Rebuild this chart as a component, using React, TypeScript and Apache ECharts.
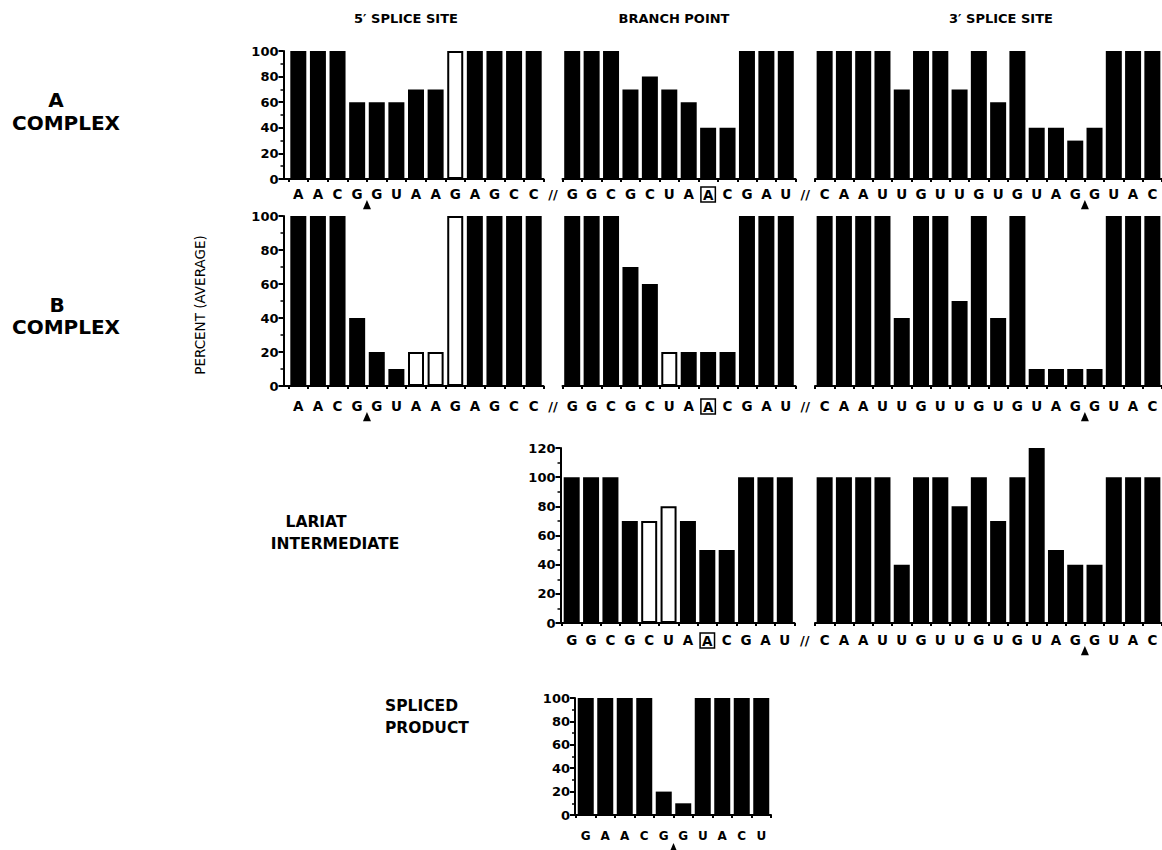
import React, { useEffect, useRef } from "react";
import * as echarts from "echarts";

// ---- data ----
const fivePrimeSeq = ["A", "A", "C", "G", "G", "U", "A", "A", "G", "A", "G", "C", "C"];
const branchSeq = ["G", "G", "C", "G", "C", "U", "A", "A", "C", "G", "A", "U"];
const threePrimeSeq = ["C", "A", "A", "U", "U", "G", "U", "U", "G", "U", "G", "U", "A", "G", "G", "U", "A", "C"];
const splicedSeq = ["G", "A", "A", "C", "G", "G", "U", "A", "C", "U"];

const aFive = [100, 100, 100, 60, 60, 60, 70, 70, 100, 100, 100, 100, 100];
const aFiveOpen = [8];
const aBranch = [100, 100, 100, 70, 80, 70, 60, 40, 40, 100, 100, 100];
const aBranchOpen: number[] = [];
const aThree = [100, 100, 100, 100, 70, 100, 100, 70, 100, 60, 100, 40, 40, 30, 40, 100, 100, 100];
const aThreeOpen: number[] = [];

const bFive = [100, 100, 100, 40, 20, 10, 20, 20, 100, 100, 100, 100, 100];
const bFiveOpen = [6, 7, 8];
const bBranch = [100, 100, 100, 70, 60, 20, 20, 20, 20, 100, 100, 100];
const bBranchOpen = [5];
const bThree = [100, 100, 100, 100, 40, 100, 100, 50, 100, 40, 100, 10, 10, 10, 10, 100, 100, 100];
const bThreeOpen: number[] = [];

const lariatBranch = [100, 100, 100, 70, 70, 80, 70, 50, 50, 100, 100, 100];
const lariatBranchOpen = [4, 5];
const lariatThree = [100, 100, 100, 100, 40, 100, 100, 80, 100, 70, 100, 120, 50, 40, 40, 100, 100, 100];
const lariatThreeOpen: number[] = [];

const splicedValues = [100, 100, 100, 100, 20, 10, 100, 100, 100, 100];
const splicedOpen: number[] = [];

const branchBoxIndex = 7;

const FONT = "DejaVu Sans";

type Panel = {
  seq: string[];
  values: number[];
  open: number[];
  max: number;
  left: number;
  width: number;
  top: number;
  height: number;
  showY: boolean;
  yOffset: number;
  margin: number;
  labelSize: number;
  box?: number;
};

const ROW_A = { top: 51, height: 128, margin: 8, labelSize: 13.5 };
const ROW_B = { top: 216, height: 170, margin: 13, labelSize: 13.5 };
const ROW_L = { top: 448, height: 175, margin: 10, labelSize: 13.5 };

const panels: Panel[] = [
  { seq: fivePrimeSeq, values: aFive, open: aFiveOpen, max: 100, left: 288.5, width: 255, ...ROW_A, showY: true, yOffset: 5 },
  { seq: branchSeq, values: aBranch, open: aBranchOpen, max: 100, left: 562.5, width: 233, ...ROW_A, showY: false, yOffset: 0, box: branchBoxIndex },
  { seq: threePrimeSeq, values: aThree, open: aThreeOpen, max: 100, left: 815, width: 352.5, ...ROW_A, showY: false, yOffset: 0 },
  { seq: fivePrimeSeq, values: bFive, open: bFiveOpen, max: 100, left: 288.5, width: 255, ...ROW_B, showY: true, yOffset: 5 },
  { seq: branchSeq, values: bBranch, open: bBranchOpen, max: 100, left: 562.5, width: 233, ...ROW_B, showY: false, yOffset: 0, box: branchBoxIndex },
  { seq: threePrimeSeq, values: bThree, open: bThreeOpen, max: 100, left: 815, width: 352.5, ...ROW_B, showY: false, yOffset: 0 },
  { seq: branchSeq, values: lariatBranch, open: lariatBranchOpen, max: 120, left: 562, width: 232.5, ...ROW_L, showY: true, yOffset: 1.5, box: branchBoxIndex },
  { seq: threePrimeSeq, values: lariatThree, open: lariatThreeOpen, max: 120, left: 815, width: 352.5, ...ROW_L, showY: false, yOffset: 0 },
  { seq: splicedSeq, values: splicedValues, open: splicedOpen, max: 100, left: 576, width: 195, top: 698, height: 117, margin: 15, labelSize: 12, showY: true, yOffset: 1 },
];

// arrows: [panel index, category after which the splice arrow sits, size]
const arrows: [number, number, number][] = [
  [0, 3, 8], [2, 13, 8], [3, 3, 8], [5, 13, 8], [7, 13, 8], [8, 4, 6],
];
// break marks "//" between adjacent panels
const breaks: [number, number][] = [[0, 1], [1, 2], [3, 4], [4, 5], [6, 7]];

export default function App() {
  const ref = useRef<HTMLDivElement>(null);
  useEffect(() => {
    const chart = echarts.init(ref.current!, null, { renderer: "svg" });
    const grid = panels.map((p) => ({ left: p.left, top: p.top, width: p.width, height: p.height }));
    const xAxis = panels.map((p, k) => ({
      type: "category",
      gridIndex: k,
      data: p.seq.map((_, i) => String(i)),
      boundaryGap: true,
      axisLine: { show: true, lineStyle: { color: "#000", width: 2 } },
      axisTick: { show: true, length: 3, lineStyle: { color: "#000", width: 2 } },
      axisLabel: {
        interval: 0,
        margin: p.margin,
        color: "#000",
        fontFamily: FONT,
        fontWeight: "bold",
        fontSize: p.labelSize,
        formatter: (v: string) => {
          const i = Number(v);
          return p.box === i ? "{box|" + p.seq[i] + "}" : p.seq[i];
        },
        rich: {
          box: {
            fontFamily: FONT,
            fontWeight: "bold",
            fontSize: p.labelSize,
            color: "#000",
            borderColor: "#000",
            borderWidth: 1.5,
            padding: [1, 2, 0, 2],
          },
        },
      },
      splitLine: { show: false },
    }));
    const yAxis = panels.map((p, k) => ({
      type: "value",
      gridIndex: k,
      min: 0,
      max: p.max,
      interval: 20,
      show: p.showY,
      offset: p.yOffset,
      axisLine: { show: true, lineStyle: { color: "#000", width: 2 } },
      axisTick: { show: true, length: 5, lineStyle: { color: "#000", width: 2 } },
      minorTick: { show: true, splitNumber: 2, length: 3, lineStyle: { color: "#000", width: 1.5 } },
      splitLine: { show: false },
      minorSplitLine: { show: false },
      axisLabel: { color: "#000", fontFamily: FONT, fontWeight: "bold", fontSize: 13, margin: 5 },
    }));
    const series = panels.map((p, k) => ({
      type: "bar",
      xAxisIndex: k,
      yAxisIndex: k,
      barWidth: 16,
      data: p.values.map((v, i) =>
        p.open.includes(i)
          ? { value: v, itemStyle: { color: "#fff", borderColor: "#000", borderWidth: 2 } }
          : { value: v, itemStyle: { color: "#000" } }
      ),
    }));
    chart.setOption({ animation: false, backgroundColor: "#fff", grid, xAxis, yAxis, series });

    const px = (k: number, i: number) => chart.convertToPixel({ xAxisIndex: k }, i) as number;
    const py = (k: number, v: number) => chart.convertToPixel({ yAxisIndex: k }, v) as number;

    const elements: any[] = [];
    const txt = (text: string, x: number, y: number, size: number, weight: string, align = "center", rotation = 0, family = FONT) => ({
      type: "text",
      x,
      y,
      rotation,
      style: {
        text,
        fill: "#000",
        fontFamily: family,
        fontSize: size,
        fontWeight: weight,
        align,
        verticalAlign: "middle",
        textAlign: align,
        textVerticalAlign: "middle",
      },
    });
    elements.push(txt("5\u2032 SPLICE SITE", 406, 18, 13, "bold"));
    elements.push(txt("BRANCH POINT", 674, 18, 13, "bold"));
    elements.push(txt("3\u2032 SPLICE SITE", 1001, 18, 13, "bold"));
    elements.push(txt("A", 56, 100, 20, "bold"));
    elements.push(txt("COMPLEX", 66, 123, 20, "bold"));
    elements.push(txt("B", 57, 305, 20, "bold"));
    elements.push(txt("COMPLEX", 66, 327, 20, "bold"));
    elements.push(txt("PERCENT (AVERAGE)", 200, 305, 13.5, "normal", "center", Math.PI / 2));
    elements.push(txt("LARIAT", 316, 522, 15.5, "bold"));
    elements.push(txt("INTERMEDIATE", 335, 544, 15.5, "bold"));
    elements.push(txt("SPLICED", 385, 706, 15.5, "bold", "left"));
    elements.push(txt("PRODUCT", 385, 728, 15.5, "bold", "left"));

    // splice-site arrows
    arrows.forEach(([k, i, s]) => {
      const x = (px(k, i) + px(k, i + 1)) / 2;
      const y0 = py(k, 0) + panels[k].margin + 13;
      elements.push({
        type: "polygon",
        shape: { points: [[x, y0], [x - s / 2, y0 + s * 1.15], [x + s / 2, y0 + s * 1.15]] },
        style: { fill: "#000" },
      });
    });
    // break marks
    breaks.forEach(([a, b]) => {
      const x = (px(a, panels[a].seq.length - 1) + px(b, 0)) / 2;
      const y = py(a, 0) + panels[a].margin + 7;
      elements.push(txt("//", x, y, 13, "bold"));
    });
    // close the corner gap between offset y-axes and x-axis lines
    panels.forEach((p, k) => {
      if (p.showY && p.yOffset > 0) {
        const y = py(k, 0);
        elements.push({
          type: "line",
          shape: { x1: p.left - p.yOffset - 1, y1: y, x2: p.left, y2: y },
          style: { stroke: "#000", lineWidth: 2 },
        });
      }
    });
    chart.setOption({ graphic: { elements } });
    return () => chart.dispose();
  }, []);
  return (
    <div
      ref={ref}
      style={{ position: "absolute", left: 0, top: 0, width: 1162, height: 850, background: "#fff" }}
    />
  );
}
